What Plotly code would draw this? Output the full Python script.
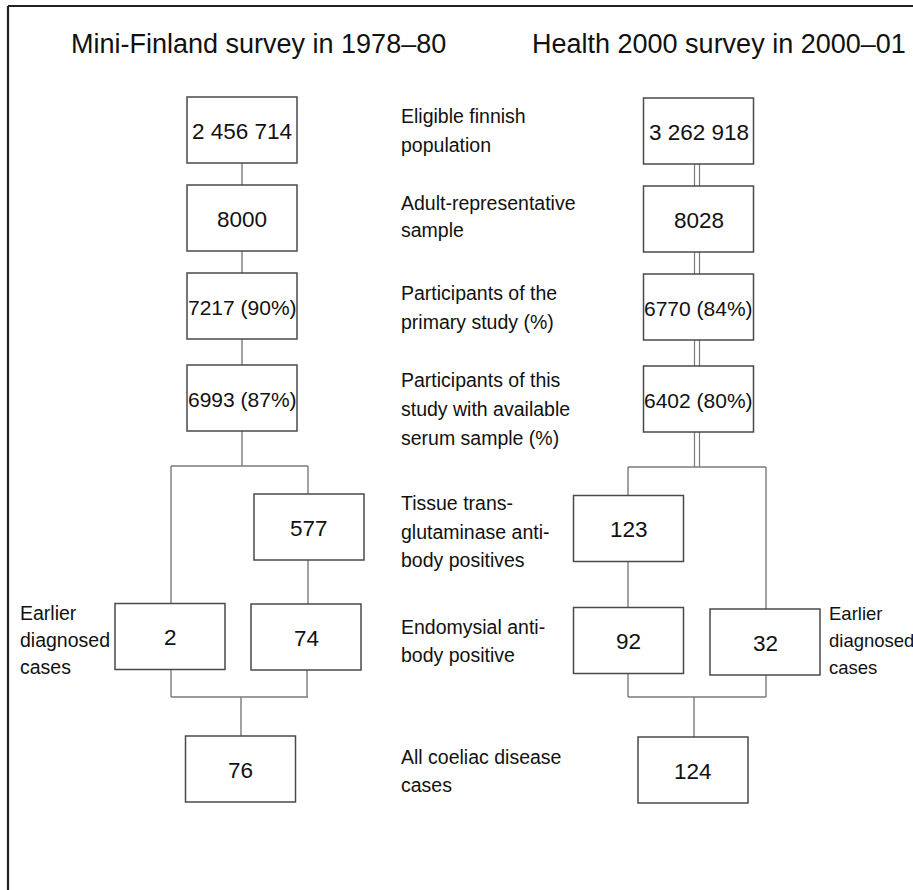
import plotly.graph_objects as go

# ---------------- data ----------------
survey_titles = ["Mini-Finland survey in 1978–80", "Health 2000 survey in 2000–01"]
stage_labels = [
    ["Eligible finnish", "population"],
    ["Adult-representative", "sample"],
    ["Participants of the", "primary study (%)"],
    ["Participants of this", "study with available", "serum sample (%)"],
    ["Tissue trans-", "glutaminase anti-", "body positives"],
    ["Endomysial anti-", "body positive"],
    ["All coeliac disease", "cases"],
]
mini_finland_counts = ["2 456 714", "8000", "7217 (90%)", "6993 (87%)", "577", "74", "76"]
mini_finland_earlier = "2"
health2000_counts = ["3 262 918", "8028", "6770 (84%)", "6402 (80%)", "123", "92", "124"]
health2000_earlier = "32"
earlier_label = ["Earlier", "diagnosed", "cases"]

# ---------------- layout (pixel coordinates) ----------------
W, H = 913, 890
BW, BH = 110, 66
FONT = "Liberation Sans, Arial, Helvetica, sans-serif"
BOX_COL = "#4a4a4a"
LINE_COL = "#7a7a7a"
TXT = "#111111"

left_pos = [(242, 130), (242, 218), (242, 306), (242, 398), (309, 527), (306, 637), (240.5, 769)]
left_earlier_pos = (170, 636.5)
right_pos = [(698.5, 131), (698.5, 219), (698.5, 307), (698.5, 399), (628.5, 528.5), (628.5, 640.5), (693, 770)]
right_earlier_pos = (765, 642)
label_line_y = [[116, 145], [203, 230], [293, 322], [380, 409, 438], [503, 532, 560], [627, 655], [757, 785]]
earlier_line_y = [613, 640, 667]

shapes = []
annotations = []


def text(x, y, t, size, anchor="left"):
    annotations.append(dict(x=x, y=y, xref="x", yref="y", text=t, showarrow=False,
                            font=dict(family=FONT, size=size, color=TXT),
                            xanchor=anchor, yanchor="middle", align=anchor))


def box(cx, cy, t):
    shapes.append(dict(type="rect", xref="x", yref="y",
                       x0=cx - BW / 2, x1=cx + BW / 2, y0=cy - BH / 2, y1=cy + BH / 2,
                       line=dict(color=BOX_COL, width=1.5), fillcolor="white", layer="above"))
    text(cx, cy + 1, t, 22.5 if "%" not in t else 21, anchor="center")


def seg(x0, y0, x1, y1, w=1.4, col=LINE_COL):
    shapes.append(dict(type="line", xref="x", yref="y", x0=x0, y0=y0, x1=x1, y1=y1,
                       line=dict(color=col, width=w), layer="below"))


# frame
seg(8, H, 8, 6, w=2.2, col="#222")
seg(8, 6, W, 6, w=2.2, col="#222")

# titles
for tx, t in zip([258.5, 719], survey_titles):
    text(tx, 44, t, 27, anchor="center")

# ---- left connectors ----
for i in range(3):
    seg(242, left_pos[i][1] + BH / 2, 242, left_pos[i + 1][1] - BH / 2)
seg(242, 431, 242, 466)
seg(171, 466, 308, 466)
seg(171, 466, 171, 604)
seg(308, 466, 308, 494)
seg(308, 560, 308, 605)
seg(171, 669, 171, 697)
seg(307, 670, 307, 697)
seg(171, 697, 308, 697)
seg(241, 697, 241, 736)

# ---- right connectors (double lines) ----
for dx in (-2.5, 2.5):
    seg(697 + dx, 164, 697 + dx, 467, w=1.2)
seg(628, 467, 766, 467)
seg(628, 467, 628, 495)
seg(628, 562, 628, 607)
seg(766, 467, 766, 609)
seg(628, 674, 628, 697)
seg(766, 675, 766, 697)
seg(628, 697, 766, 697)
seg(694, 697, 694, 737)

# boxes
for (cx, cy), t in zip(left_pos, mini_finland_counts):
    box(cx, cy, t)
box(*left_earlier_pos, mini_finland_earlier)
for (cx, cy), t in zip(right_pos, health2000_counts):
    box(cx, cy, t)
box(*right_earlier_pos, health2000_earlier)

# middle stage labels
for ys, lines in zip(label_line_y, stage_labels):
    for y, t in zip(ys, lines):
        text(399, y, t, 19.5)

# earlier diagnosed labels
for x, size in ((18, 19.5), (827, 18.5)):
    for y, t in zip(earlier_line_y, earlier_label):
        text(x, y, t, size)

fig = go.Figure()
fig.add_trace(go.Scatter(x=[0, W], y=[0, H], mode="markers", marker=dict(opacity=0),
                         hoverinfo="skip", showlegend=False))
fig.update_layout(
    width=W, height=H, margin=dict(l=0, r=0, t=0, b=0),
    paper_bgcolor="white", plot_bgcolor="white",
    xaxis=dict(range=[0, W], visible=False, fixedrange=True),
    yaxis=dict(range=[H, 0], visible=False, fixedrange=True),
    shapes=shapes, annotations=annotations, showlegend=False,
)
fig.write_html("out.html", config={"displayModeBar": False},
               post_script="document.body.style.margin='0';document.body.style.overflow='hidden';")
